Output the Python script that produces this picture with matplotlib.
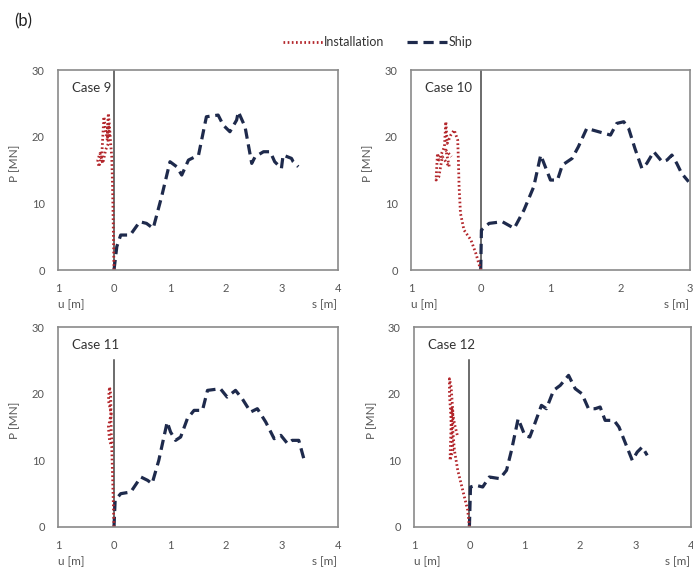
import numpy as np
from matplotlib import pyplot as plt
from matplotlib.lines import Line2D

plt.rcParams['font.family'] = ['Lato', 'DejaVu Sans']

# ---- data (u plotted negative to the left of 0) ----
ship9_s = [0, 0.05, 0.12, 0.29, 0.46, 0.58, 0.7, 0.85, 1.0, 1.12, 1.21, 1.33, 1.51, 1.65, 1.86,
           1.95, 2.07, 2.19, 2.22, 2.34, 2.46, 2.52, 2.67, 2.79, 2.87, 2.99, 3.02, 3.17, 3.2, 3.29]
ship9_p = [0, 3.5, 5.25, 5.25, 7.25, 7.0, 6.25, 11.0, 16.25, 15.5, 14.25, 16.5, 17.25, 23.0, 23.25,
           21.75, 20.75, 22.5, 23.75, 21.5, 16.0, 17.0, 17.75, 17.75, 16.25, 15.25, 17.25, 16.75, 16.25, 15.5]
inst9_u = [0, -0.01, -0.02, -0.03, -0.04, -0.06, -0.08, -0.1, -0.12, -0.1, -0.15, -0.2, -0.25,
           -0.29, -0.27, -0.22, -0.18, -0.15, -0.12, -0.1, -0.08]
inst9_p = [0, 5, 10, 14, 17, 19, 21.5, 23.5, 21, 19, 18, 16, 17.5, 16.5, 15.5, 17, 23, 21, 19.5, 22, 20]

ship10_s = [0, 0.01, 0.12, 0.31, 0.48, 0.62, 0.76, 0.86, 1.0, 1.1, 1.17, 1.31, 1.4, 1.52, 1.69,
            1.86, 1.95, 2.05, 2.12, 2.21, 2.31, 2.38, 2.48, 2.6, 2.67, 2.74, 2.81, 2.88, 2.98]
ship10_p = [0, 6, 7, 7.25, 6.25, 9, 12.5, 17.25, 13.5, 13.5, 15.75, 16.75, 18.5, 21.25, 20.75,
            20.25, 22, 22.25, 21.25, 18.25, 15.25, 16, 17.75, 16.25, 16.5, 17.25, 16, 14.5, 13.25]
inst10_u = [0, -0.07, -0.14, -0.24, -0.29, -0.31, -0.32, -0.33, -0.38, -0.43, -0.48, -0.5,
            -0.52, -0.6, -0.62, -0.64, -0.6, -0.55, -0.45, -0.5, -0.42]
inst10_p = [0, 2.5, 4.5, 6, 8.5, 12.5, 16.5, 19.5, 21, 20.25, 19, 22.25, 18.5, 16.5, 17.5,
            13.5, 14, 17, 15.5, 18, 17]

ship11_s = [0, 0.02, 0.12, 0.3, 0.48, 0.6, 0.68, 0.8, 0.95, 1.01, 1.1, 1.19, 1.31, 1.43, 1.58,
            1.67, 1.9, 2.02, 2.17, 2.29, 2.44, 2.56, 2.71, 2.86, 2.98, 3.1, 3.18, 3.3, 3.39]
ship11_p = [0, 4, 5, 5.25, 7.5, 7, 6.5, 10, 15.75, 14.25, 13, 13.5, 16.25, 17.5, 17.5,
            20.5, 20.75, 19.5, 20.5, 19.25, 17.25, 17.75, 15.75, 13.25, 13.75, 12.5, 13, 13, 10.25]
inst11_u = [0, -0.01, -0.02, -0.03, -0.04, -0.08, -0.1, -0.05, -0.1, -0.08, -0.06, -0.05, -0.03]
inst11_p = [0, 3, 6, 9, 12, 13, 15, 17, 19, 21, 20, 14, 12.5]

ship12_s = [0, 0.02, 0.12, 0.24, 0.36, 0.55, 0.67, 0.76, 0.88, 1.0, 1.09, 1.18, 1.3, 1.39, 1.52,
            1.64, 1.79, 1.91, 2.03, 2.15, 2.27, 2.36, 2.45, 2.61, 2.7, 2.82, 2.94, 3.03, 3.12, 3.21]
ship12_p = [0, 6, 6.25, 6, 7.5, 7.25, 8.5, 11.5, 16.25, 13.75, 13.5, 15.5, 18.25, 17.75, 20.5,
            21.25, 22.75, 20.75, 20, 17.75, 17.75, 18, 16, 16, 15, 12.5, 10, 11.25, 12, 10.75]
inst12_u = [0, -0.03, -0.12, -0.21, -0.27, -0.3, -0.3, -0.33, -0.36, -0.36, -0.33, -0.3,
            -0.35, -0.32, -0.27, -0.21]
inst12_p = [0, 2.5, 5.5, 8.5, 11.5, 14.5, 17.5, 21, 22.25, 20, 16, 11.5, 10, 18, 15.5, 13.5]

cases = ['Case 9', 'Case 10', 'Case 11', 'Case 12']
ship_s = [ship9_s, ship10_s, ship11_s, ship12_s]
ship_p = [ship9_p, ship10_p, ship11_p, ship12_p]
inst_u = [inst9_u, inst10_u, inst11_u, inst12_u]
inst_p = [inst9_p, inst10_p, inst11_p, inst12_p]
xmax = [4, 3, 4, 4]
wall_top = [30, 30, 25, 25]
yticks = [0, 10, 20, 30]

# axes boxes [left, bottom, width, height] in figure fraction
boxes = [[0.0837, 0.5246, 0.404, 0.352],
         [0.593, 0.5246, 0.4027, 0.352],
         [0.0837, 0.0722, 0.404, 0.352],
         [0.5974, 0.0722, 0.3997, 0.352]]

ship_col = '#1e2a4c'
inst_col = '#b3262b'
grey = '#8a8a8a'
txt = '#555555'

fig = plt.figure(figsize=(6.93, 5.68), dpi=100)

for i in range(4):
    ax = fig.add_axes(boxes[i])
    ax.plot(ship_s[i], ship_p[i], color=ship_col, lw=2.3, ls=(0, (3.2, 1.8)))
    ax.plot(inst_u[i], inst_p[i], color=inst_col, lw=2.0, ls=(0, (0.6, 0.9)))
    ax.plot([0, 0], [0, wall_top[i]], color='#444444', lw=1.1, zorder=1)
    ax.set_xlim(-1, xmax[i])
    ax.set_ylim(0, 30)
    xt = list(range(-1, xmax[i] + 1))
    ax.set_xticks(xt)
    ax.set_xticklabels([str(abs(v)) for v in xt])
    ax.set_yticks(yticks)
    ax.tick_params(length=0, labelsize=8, labelcolor=txt, pad=9.5)
    for sp in ax.spines.values():
        sp.set_color(grey)
        sp.set_linewidth(1.2)
    ax.set_ylabel('P [MN]', fontsize=8.5, color=txt)
    ax.yaxis.set_label_coords(-0.135, 0.535)
    ax.text(0.05, 0.91, cases[i], transform=ax.transAxes, fontsize=9.5, color='#333333',
            va='center', ha='left')
    ax.text(0.0, -0.175, 'u [m]', transform=ax.transAxes, fontsize=8.5, color=txt, va='center')
    ax.text(0.996, -0.175, 's [m]', transform=ax.transAxes, fontsize=8.5, color=txt,
            va='center', ha='right')

fig.text(0.02, 0.963, '(b)', fontsize=12, color='#222222', va='center')

handles = [Line2D([], [], color=inst_col, lw=2.0, ls=(0, (0.6, 0.9))),
           Line2D([], [], color=ship_col, lw=2.3, ls=(0, (3.2, 1.8)))]
fig.legend(handles, ['Installation', 'Ship'], loc='center', bbox_to_anchor=(0.545, 0.926),
           ncol=2, frameon=False, fontsize=9, handlelength=3.2, handletextpad=0.1,
           columnspacing=1.8, labelcolor='#333333')

fig.savefig('out.png', dpi=100)
